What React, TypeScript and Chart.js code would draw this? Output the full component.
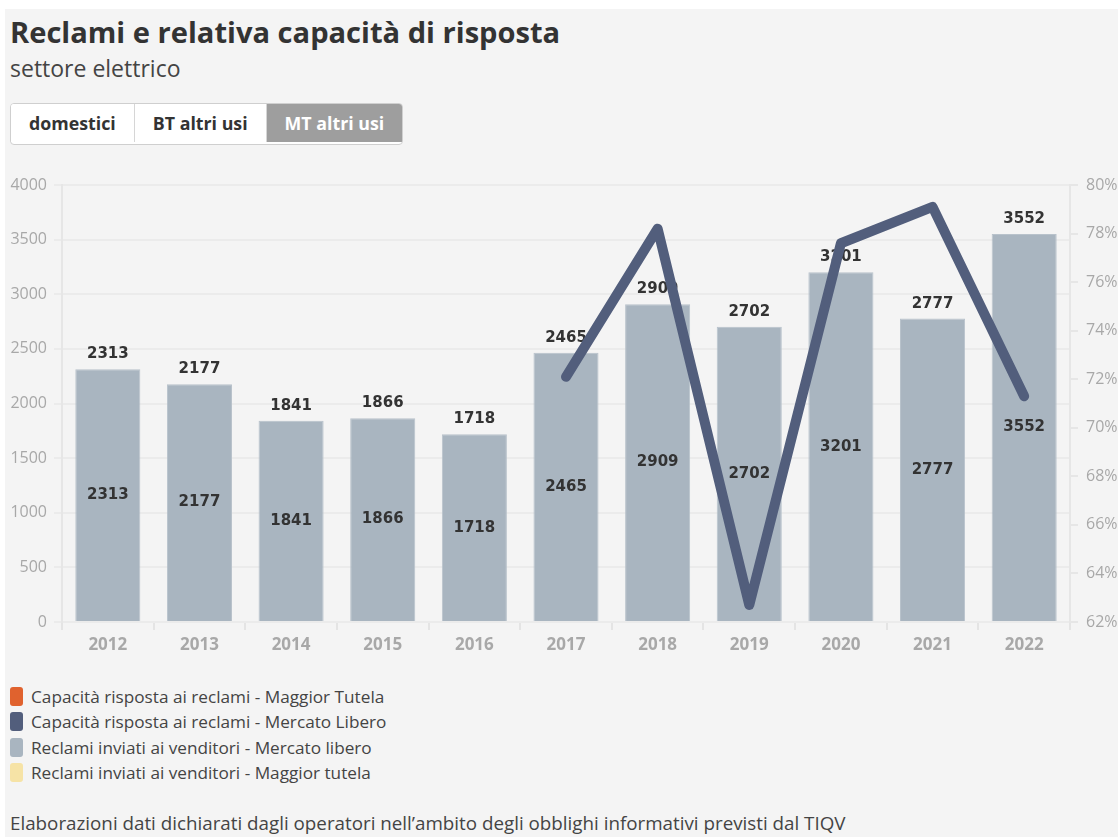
import React, { useEffect, useRef } from "react";
import { Chart, registerables } from "chart.js";

Chart.register(...registerables);

const TITLE = "Reclami e relativa capacità di risposta";
const SUBTITLE = "settore elettrico";
const TABS = ["domestici", "BT altri usi", "MT altri usi"];
const ACTIVE_TAB = 2;
const FOOTER =
  "Elaborazioni dati dichiarati dagli operatori nell\u2019ambito degli obblighi informativi previsti dal TIQV";

const years = ["2012", "2013", "2014", "2015", "2016", "2017", "2018", "2019", "2020", "2021", "2022"];
const reclamiMercatoLibero = [2313, 2177, 1841, 1866, 1718, 2465, 2909, 2702, 3201, 2777, 3552];
const capacitaMercatoLibero = [null, null, null, null, null, 72.1, 78.2, 62.7, 77.6, 79.1, 71.3];

const legendLabels = [
  "Capacità risposta ai reclami - Maggior Tutela",
  "Capacità risposta ai reclami - Mercato Libero",
  "Reclami inviati ai venditori - Mercato libero",
  "Reclami inviati ai venditori - Maggior tutela",
];
const legendColors = ["#e0622e", "#525e7c", "#a9b5c0", "#f6e3a6"];

const BAR_COLOR = "#a9b5c0";
const LINE_COLOR = "#525e7c";
const FONT = "'Open Sans', 'Noto Sans', sans-serif";

const barLabelsPlugin = {
  id: "barLabels",
  afterDatasetDraw(chart: any, args: any) {
    const ds = chart.data.datasets[args.index];
    if (ds.type !== "bar") return;
    const meta = chart.getDatasetMeta(args.index);
    const ctx = chart.ctx;
    ctx.save();
    ctx.font = "bold 15px 'DejaVu Sans', sans-serif";
    ctx.fillStyle = "#333333";
    ctx.textAlign = "center";
    ctx.textBaseline = "middle";
    meta.data.forEach((el: any, i: number) => {
      const v = ds.data[i];
      if (v == null) return;
      const txt = String(v);
      ctx.fillText(txt, el.x, el.y - 15);
      ctx.fillText(txt, el.x, (el.y + el.base) / 2);
    });
    ctx.restore();
  },
};

function ChartView() {
  const ref = useRef<HTMLCanvasElement | null>(null);
  useEffect(() => {
    if (!ref.current) return;
    const chart = new Chart(ref.current, {
      type: "bar",
      data: {
        labels: years,
        datasets: [
          {
            type: "line",
            label: legendLabels[1],
            data: capacitaMercatoLibero as any,
            yAxisID: "y1",
            borderColor: LINE_COLOR,
            backgroundColor: LINE_COLOR,
            borderWidth: 10,
            borderCapStyle: "round",
            borderJoinStyle: "round",
            pointRadius: 0,
            pointHoverRadius: 0,
            tension: 0,
            spanGaps: false,
            order: 1,
          } as any,
          {
            type: "bar",
            label: legendLabels[2],
            data: reclamiMercatoLibero,
            yAxisID: "y",
            backgroundColor: BAR_COLOR,
            borderColor: "#b8c2cb",
            borderWidth: 1,
            categoryPercentage: 1,
            barPercentage: 0.71,
            order: 2,
          } as any,
        ],
      },
      options: {
        animation: false,
        responsive: false,
        maintainAspectRatio: false,
        layout: { padding: { top: 20, left: 0, right: 0, bottom: 0 } },
        plugins: {
          legend: { display: false },
          tooltip: { enabled: false },
        },
        scales: {
          x: {
            grid: {
              display: true,
              drawOnChartArea: false,
              color: "#e4e4e4",
              lineWidth: 2,
              tickLength: 8,
            },
            border: { display: false },
            ticks: {
              color: "#a8a8a8",
              font: { family: FONT, size: 17, weight: "bold" },
              padding: 5,
            },
            afterFit: (s: any) => {
              s.height = 43;
            },
          },
          y: {
            position: "left",
            min: 0,
            max: 4000,
            ticks: {
              stepSize: 500,
              color: "#a8a8a8",
              font: { family: FONT, size: 16 },
              padding: 7,
              callback: (v: any) => String(v),
            },
            grid: { color: "#ebebeb", lineWidth: 2, tickLength: 8 },
            border: { display: true, color: "#e6e6e6", width: 2 },
            afterFit: (s: any) => {
              s.width = 62;
            },
          },
          y1: {
            position: "right",
            min: 62,
            max: 80,
            ticks: {
              stepSize: 2,
              color: "#a8a8a8",
              font: { family: FONT, size: 16 },
              padding: 8,
              callback: (v: any) => v + "%",
            },
            grid: { drawOnChartArea: false, color: "#e6e6e6", lineWidth: 2, tickLength: 8 },
            border: { display: true, color: "#e6e6e6", width: 2 },
            afterFit: (s: any) => {
              s.width = 48;
            },
          },
        },
      } as any,
      plugins: [barLabelsPlugin],
    });
    return () => chart.destroy();
  }, []);
  return (
    <canvas
      ref={ref}
      width={1118}
      height={500}
      style={{ position: "absolute", left: 0, top: 165, width: 1118, height: 500 }}
    />
  );
}

export default function App() {
  return (
    <div
      style={{
        position: "fixed",
        left: 0,
        top: 0,
        width: 1118,
        height: 837,
        background: "#ffffff",
        overflow: "hidden",
        fontFamily: FONT,
      }}
    >
      <div
        style={{
          position: "absolute",
          left: 5,
          top: 9,
          width: 1113,
          height: 828,
          background: "#f4f4f4",
        }}
      />
      <div
        style={{
          position: "absolute",
          left: 10,
          top: 15,
          fontSize: 29.1,
          lineHeight: "34px",
          fontWeight: 700,
          color: "#333333",
          whiteSpace: "nowrap",
        }}
      >
        {TITLE}
      </div>
      <div
        style={{
          position: "absolute",
          left: 10,
          top: 54,
          fontSize: 23,
          lineHeight: "28px",
          color: "#444444",
          whiteSpace: "nowrap",
        }}
      >
        {SUBTITLE}
      </div>
      <div
        style={{
          position: "absolute",
          left: 10,
          top: 103,
          height: 40,
          display: "flex",
          border: "1px solid #cfcfcf",
          borderRadius: 4,
          overflow: "hidden",
          background: "#ffffff",
        }}
      >
        {TABS.map((t, i) => (
          <div
            key={t}
            style={{
              height: 38,
              lineHeight: "38px",
              padding: "0 18px",
              fontSize: 17.8,
              fontWeight: 700,
              color: i === ACTIVE_TAB ? "#ffffff" : "#333333",
              background: i === ACTIVE_TAB ? "#9e9e9e" : "#ffffff",
              borderLeft: i > 0 ? "1px solid #d6d6d6" : "none",
              whiteSpace: "nowrap",
            }}
          >
            {t}
          </div>
        ))}
      </div>
      <ChartView />
      <div style={{ position: "absolute", left: 10, top: 684 }}>
        {legendLabels.map((l, i) => (
          <div
            key={l}
            style={{ display: "flex", alignItems: "center", height: 25.3, whiteSpace: "nowrap" }}
          >
            <span
              style={{
                display: "inline-block",
                width: 13,
                height: 19,
                borderRadius: 3,
                background: legendColors[i],
                marginRight: 8,
              }}
            />
            <span style={{ fontSize: 17.2, color: "#444444" }}>{l}</span>
          </div>
        ))}
      </div>
      <div
        style={{
          position: "absolute",
          left: 10,
          top: 810,
          fontSize: 18.8,
          lineHeight: "26px",
          color: "#444444",
          whiteSpace: "nowrap",
        }}
      >
        {FOOTER}
      </div>
    </div>
  );
}
